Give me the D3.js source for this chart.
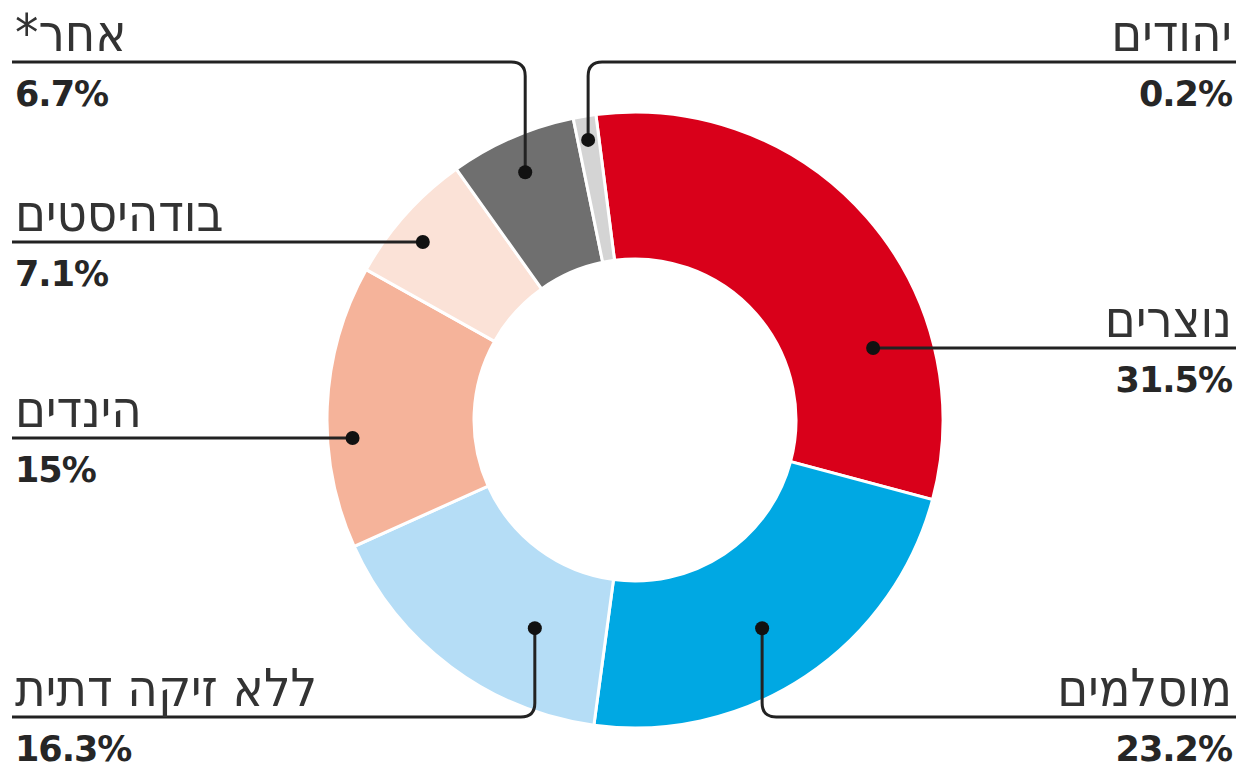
<!DOCTYPE html>
<html>
<head>
<meta charset="utf-8">
<script src="https://cdn.jsdelivr.net/npm/d3@7"></script>
<style>
  body { margin: 0; background: #fff; }
  .name { font-family: "DejaVu Sans Condensed", "DejaVu Sans", sans-serif; font-weight: 200; font-size: 52px; fill: #333; }
  .pct { font-family: "DejaVu Sans", sans-serif; font-weight: bold; font-size: 35px; letter-spacing: -1px; fill: #262626; }
</style>
</head>
<body>
<div id="chart"></div>
<script>
// religions of the world, share of population (%)
var names = ["נוצרים", "מוסלמים", "ללא זיקה דתית", "הינדים", "בודהיסטים", "אחר*", "יהודים"];
var values = [31.5, 23.2, 16.3, 15, 7.1, 6.7, 0.2];
var pctLabels = ["31.5%", "23.2%", "16.3%", "15%", "7.1%", "6.7%", "0.2%"];
var colors = ["#d9001a", "#00a8e3", "#b5ddf6", "#f5b39a", "#fbe2d7", "#6f6f6f", "#d4d4d4"];

// label layout: side of page, y of the leader line, leader kind, dot polar pos (deg, radius)
var labelSide = ["right", "right", "left", "left", "left", "left", "right"];
var lineY = [348, 717, 717, 438, 242, 62, 62];
var leaderKind = ["h", "v", "v", "h", "h", "v", "v"];
var dotAngle = [73, 148.6, 205.7, 273.6, 310, 336.1, 350.5];
var dotRadius = [249, 244, 231, 283, 277, 271, 284];

var width = 1239, height = 772;
var cx = 635, cy = 420, rOuter = 308, rInner = 161;
var leftX = 12, rightX = 1236;

var svg = d3.select("#chart")
  .append("svg")
    .attr("width", width)
    .attr("height", height);

var rad = Math.PI / 180;
var pie = d3.pie()
  .sort(null)
  .value(function(d) { return Math.max(d, 1.2) })   // keep the tiny slice visible
  .startAngle(-7.3 * rad)
  .endAngle(352.7 * rad);

var arc = d3.arc().innerRadius(rInner).outerRadius(rOuter);

var g = svg.append("g").attr("transform", "translate(" + cx + "," + cy + ")");

g.selectAll("path")
  .data(pie(values))
  .enter().append("path")
    .attr("d", arc)
    .attr("fill", function(d, i) { return colors[i] })
    .attr("stroke", "#fff")
    .attr("stroke-width", 3);

// leaders
var cr = 14;
names.forEach(function(name, i) {
  var a = dotAngle[i] * rad;
  var dx = cx + dotRadius[i] * Math.sin(a);
  var dy = cy - dotRadius[i] * Math.cos(a);
  var ly = lineY[i];
  var endX = labelSide[i] == "right" ? rightX : leftX;
  var dir = labelSide[i] == "right" ? 1 : -1;
  var p = d3.path();
  if (leaderKind[i] == "h") {
    dy = ly;
    p.moveTo(dx, dy);
    p.lineTo(endX, ly);
  } else {
    var vdir = ly < dy ? -1 : 1;
    p.moveTo(dx, dy);
    p.lineTo(dx, ly - vdir * cr);
    p.quadraticCurveTo(dx, ly, dx + dir * cr, ly);
    p.lineTo(endX, ly);
  }
  svg.append("path")
    .attr("d", p.toString())
    .attr("fill", "none")
    .attr("stroke", "#222")
    .attr("stroke-width", 3);
  svg.append("circle")
    .attr("cx", dx).attr("cy", dy).attr("r", 7)
    .attr("fill", "#111");

  var tx = labelSide[i] == "right" ? rightX - 4 : leftX + 3;
  svg.append("text")
    .attr("class", "name")
    .attr("direction", "rtl")
    .attr("x", tx)
    .attr("y", ly - 11)
    .attr("text-anchor", labelSide[i] == "right" ? "start" : "end")
    .text(name);
  svg.append("text")
    .attr("class", "pct")
    .attr("x", tx)
    .attr("y", ly + 44)
    .attr("text-anchor", labelSide[i] == "right" ? "end" : "start")
    .text(pctLabels[i]);
});
</script>
</body>
</html>
